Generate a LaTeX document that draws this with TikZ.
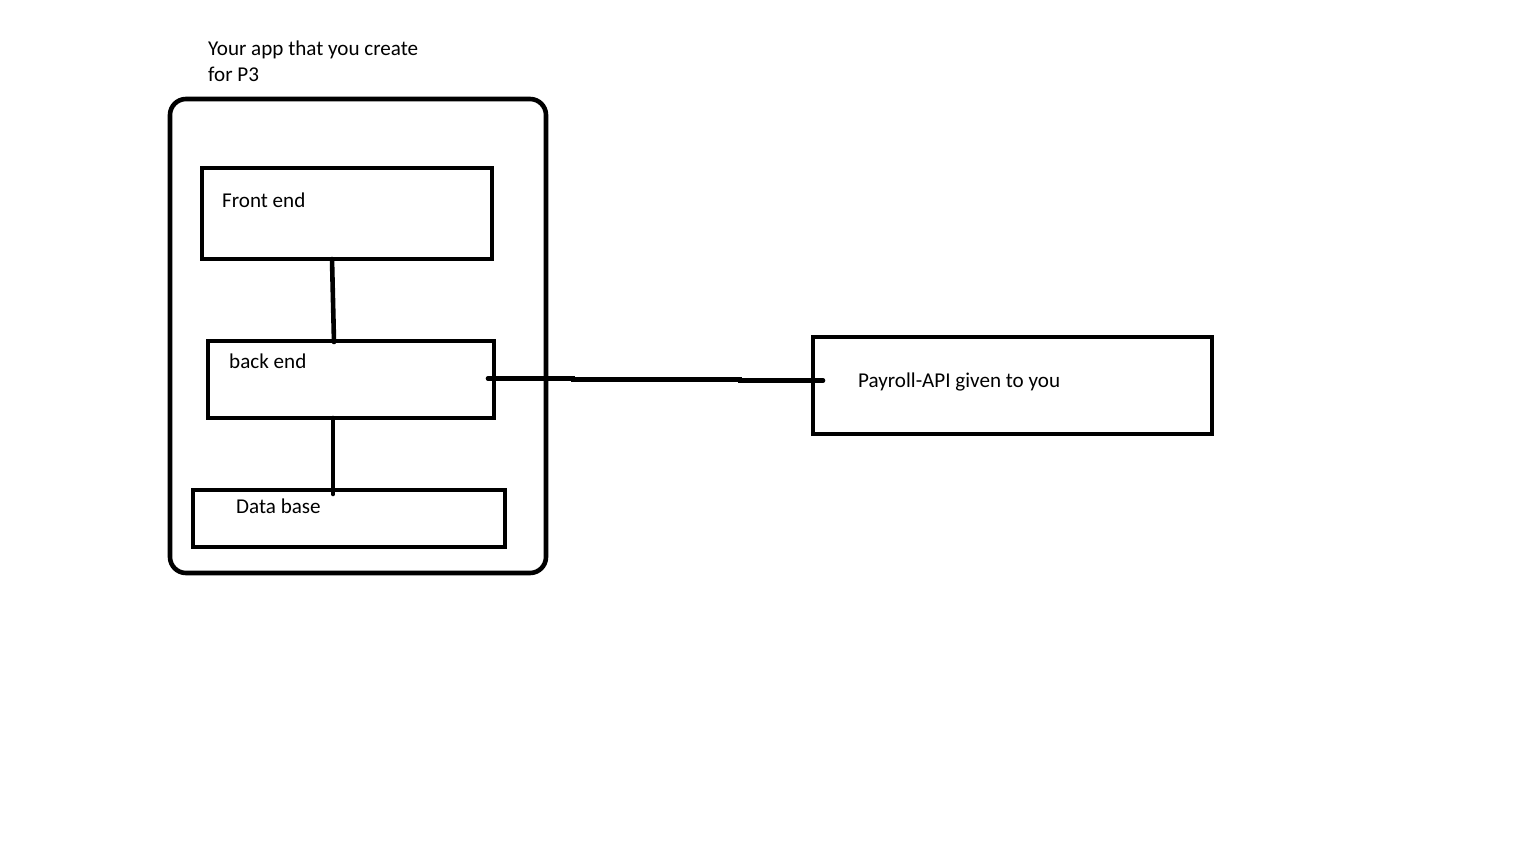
\documentclass[tikz,border=0pt]{standalone}
\usepackage{fontspec}
\setmainfont{Carlito}
\usetikzlibrary{calc}
\begin{document}
\begin{tikzpicture}[x=1pt,y=-1pt,
  box/.style={draw=black,line width=4.6pt,inner sep=0pt,outer sep=0pt,rectangle},
  txt/.style={anchor=base west,inner sep=0pt,font=\fontsize{21.1}{26}\selectfont,text=black},
  wire/.style={draw=black,line width=4.6pt,line cap=round}]
  \useasboundingbox (0,0) rectangle (1536,864);
  \fill[white] (0,0) rectangle (1536,864);

  % the application container
  \node[box,rounded corners=16pt,minimum width=376pt,minimum height=474pt] (app) at (358,336) {};
  \node[txt] (title1) at (208,56) {Your app that you create};
  \node[txt] (title2) at (208,82) {for P3};

  % layers of the application
  \node[box,minimum width=290pt,minimum height=91pt] (fe) at (347,213.5) {};
  \node[txt] (felbl) at (222,207) {Front end};
  \node[box,minimum width=286pt,minimum height=77pt] (be) at (351,379.5) {};
  \node[txt] (belbl) at (229,368) {back end};
  \node[box,minimum width=312pt,minimum height=57pt] (db) at (349,518.5) {};
  \node[txt] (dblbl) at (236,513) {Data base};

  % external service
  \node[box,minimum width=399pt,minimum height=97pt] (pay) at (1012.5,385.5) {};
  \node[txt] (paylbl) at (858,387) {Payroll-API given to you};

  % connectors
  \draw[wire] ([xshift=-15pt]fe.south) -- ([xshift=-17pt,yshift=-1pt]be.north);
  \draw[wire] ([xshift=-18pt]be.south) -- ([xshift=-16pt,yshift=-4pt]db.north);
  \draw[wire] ([xshift=-6pt,yshift=1pt]be.east) -- ++(85,0) -- ++(0,1.2) -- ++(167,0)
    -- ++(0,0.8) -- ([xshift=10pt,yshift=5pt]pay.west);
\end{tikzpicture}
\end{document}
